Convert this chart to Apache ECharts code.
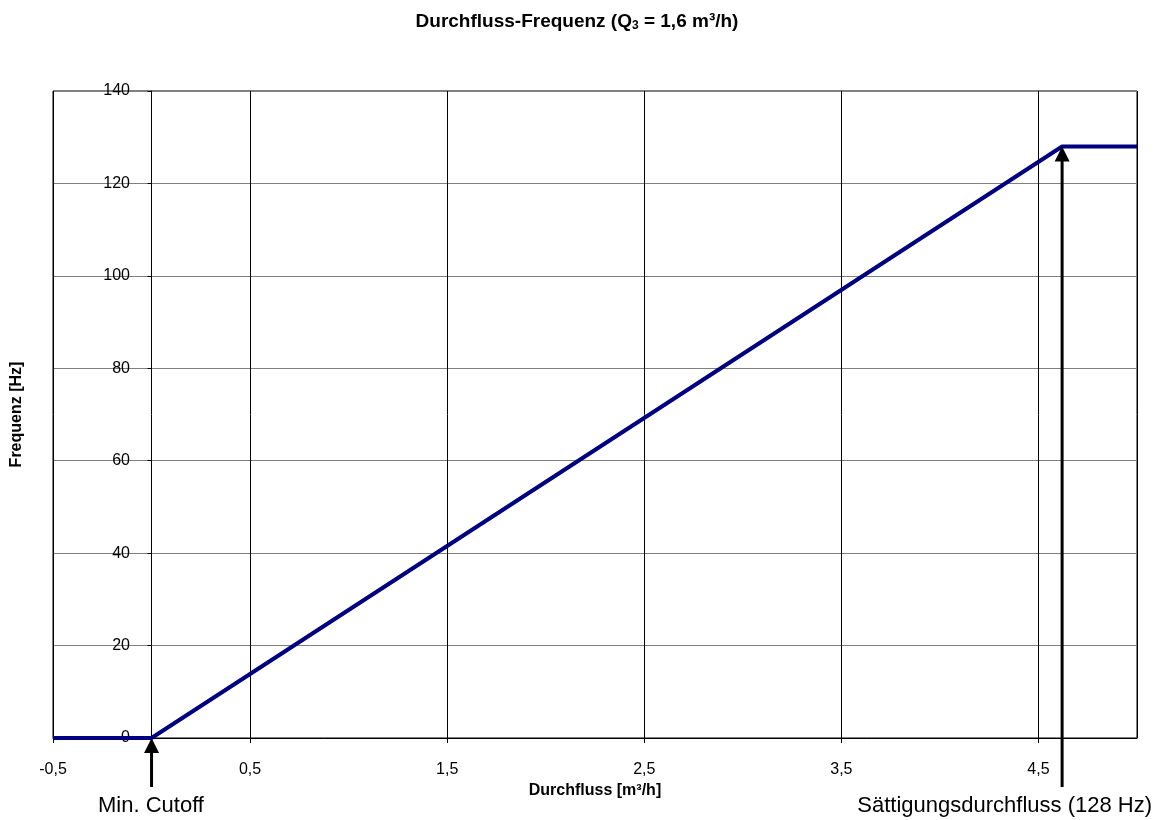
<!DOCTYPE html>
<html>
<head>
<meta charset="utf-8">
<script src="https://cdn.jsdelivr.net/npm/echarts@6/dist/echarts.min.js"></script>
<style>html,body{margin:0;padding:0;background:#fff}#c{width:1154px;height:820px}</style>
</head>
<body>
<div id="c"></div>
<script>
const flowValues = [-0.5, 0, 4.62, 5.0];
const freqValues = [0, 0, 128, 128];
const arrowFlows = [0, 4.62];
const arrowTips = [0, 128];
const arrowBases = [-10.6, -10.6];
const titleText = 'Durchfluss-Frequenz (Q{sub|3} = 1,6 m³/h)';
const xName = 'Durchfluss [m³/h]';
const yName = 'Frequenz [Hz]';
const cutoffLabel = 'Min. Cutoff';
const saturationLabel = 'Sättigungsdurchfluss (128 Hz)';

const FONT = '"Liberation Sans", Arial, sans-serif';
const chart = echarts.init(document.getElementById('c'));
chart.setOption({
  animation: false,
  textStyle: { fontFamily: FONT, color: '#000' },
  title: {
    text: titleText, left: 'center', top: 7,
    textStyle: { fontSize: 19, fontWeight: 'bold', color: '#000', fontFamily: FONT,
      rich: { sub: { fontSize: 12, fontWeight: 'bold', verticalAlign: 'bottom', padding: [8, 0, 0, 0], fontFamily: FONT, color: '#000' } } }
  },
  grid: { left: 53, right: 17, top: 91, bottom: 82, show: true, borderColor: '#000', borderWidth: 1,
    containLabel: false, outerBoundsMode: 'none' },
  xAxis: {
    type: 'value', min: -0.5, max: 5, interval: 1,
    name: xName, nameLocation: 'middle', nameGap: 45,
    nameTextStyle: { fontSize: 16, fontWeight: 'bold', color: '#000', fontFamily: FONT },
    axisLine: { show: true, onZero: true, lineStyle: { color: '#000', width: 1 } },
    axisTick: { show: true, length: 5, inside: false, lineStyle: { color: '#000' } },
    axisLabel: { margin: 24, fontSize: 16, color: '#000', showMaxLabel: false,
      formatter: v => String(v).replace('.', ',') },
    splitLine: { show: true, lineStyle: { color: '#000', width: 1 } }
  },
  yAxis: {
    type: 'value', min: 0, max: 140, interval: 20,
    name: yName, nameLocation: 'middle', nameGap: 28, nameRotate: 90,
    nameTextStyle: { fontSize: 16, fontWeight: 'bold', color: '#000', fontFamily: FONT },
    axisLine: { show: true, onZero: true, lineStyle: { color: '#000', width: 1 } },
    axisTick: { show: true, length: 4, lineStyle: { color: '#000' } },
    axisLabel: { margin: -77, fontSize: 16, color: '#000', align: 'right' },
    splitLine: { show: true, lineStyle: { color: '#808080', width: 1 } }
  },
  series: [{
    type: 'line',
    data: flowValues.map((x, i) => [x, freqValues[i]]),
    showSymbol: false, symbol: 'none',
    lineStyle: { color: '#000080', width: 4 },
    clip: false,
    z: 3
  }, {
    type: 'custom',
    clip: false,
    z: 4,
    silent: true,
    data: arrowFlows.map((x, i) => [x, arrowTips[i], arrowBases[i]]),
    renderItem: function (params, api) {
      const tip = api.coord([api.value(0), api.value(1)]);
      const base = api.coord([api.value(0), api.value(2)]);
      const hw = 7.5, hh = 15;
      return {
        type: 'group',
        children: [
          { type: 'line', shape: { x1: base[0], y1: base[1], x2: tip[0], y2: tip[1] + hh - 1 },
            style: { stroke: '#000', lineWidth: 3 } },
          { type: 'polygon', shape: { points: [[tip[0], tip[1]], [tip[0] - hw, tip[1] + hh], [tip[0] + hw, tip[1] + hh]] },
            style: { fill: '#000' } }
        ]
      };
    }
  }],
  graphic: [
    { type: 'text', left: 98, top: 795, style: { text: cutoffLabel, fontSize: 22, fill: '#000', fontFamily: FONT } },
    { type: 'text', right: 2, top: 795, style: { text: saturationLabel, fontSize: 22, fill: '#000', fontFamily: FONT } }
  ]
});
</script>
</body>
</html>
